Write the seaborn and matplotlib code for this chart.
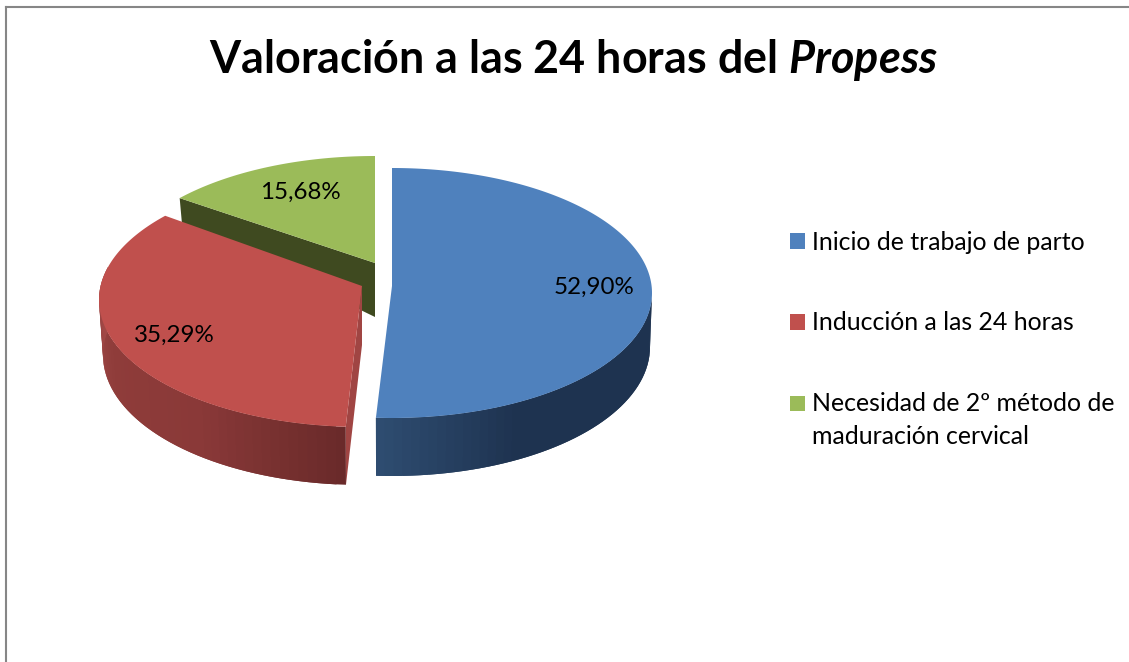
import numpy as np
import seaborn as sns
import matplotlib
matplotlib.use("Agg")
import matplotlib.pyplot as plt
from matplotlib.patches import Patch

title = r"Valoración a las 24 horas del $\mathbfit{Propess}$"
categories = ["Inicio de trabajo de parto", "Inducción a las 24 horas",
              "Necesidad de 2º método de\nmaduración cervical"]
values = [52.90, 35.29, 15.68]

top_colors = ["#4f81bd", "#c0504d", "#9bbb59"]
wall_colors = ["#2c4a6e", "#a04543", "#3f4a20"]
side_stops = [["#1e3350", "#1e3350", "#1e3350", "#2e4c70"],
              ["#6a2a2a", "#8a3938", "#8f3c3a", "#a54b49"],
              ["#3f4a20", "#3f4a20"]]

# layout of the exploded slices, in pixels
tops = [(392, 293, 260, 125), (362, 300, 263, 127), (375, 281, 261, 125)]
bottoms = [(392, 347, 258, 129), (362, 355, 259, 130), (375, 308, 258, 128)]
apex = [(392, 286, 54), (362, 286, 59), (375, 263, 54)]
label_pos = [(594, 287), (174, 335), (300, 192)]

sns.set_style("white")
plt.rcParams["font.family"] = ["Lato", "DejaVu Sans"]
plt.rcParams["mathtext.fontset"] = "custom"
plt.rcParams["mathtext.bfit"] = "Lato:italic:bold"
plt.rcParams["mathtext.rm"] = "Lato"


def warp(angle):
    # the 3d view moves the far edge of the red slice a bit on screen
    return np.interp(angle, [0, 183.3, 305.6, 360], [0, 183.5, 311.5, 360])


def arc(box, angles):
    cx, cy, rx, ry = box
    a = np.radians(angles)
    return cx + rx * np.sin(a), cy - ry * np.cos(a)


fig = plt.figure(figsize=(11.29, 6.62), dpi=100)
ax = fig.add_axes([5.5 / 1129, 0, 1 - 5.5 / 1129, 1 - 6.5 / 662])
ax.set_xlim(5.5, 1129)
ax.set_ylim(662, 6.5)
ax.set_xticks([])
ax.set_yticks([])
for name, spine in ax.spines.items():
    spine.set_visible(name in ("top", "left"))
    spine.set_color("#868686")
    spine.set_linewidth(1.5)

total = sum(values)
edges = np.cumsum([0] + values) / total * 360

# back to front: green, red, blue
for i in [2, 1, 0]:
    start, end = warp(edges[i]), warp(edges[i + 1])
    ax_, ay, depth = apex[i]

    # cut faces
    if i in (1, 2):
        tx, ty = arc(tops[i], start)
        bx, by = arc(bottoms[i], start)
        ax.fill([ax_, tx, bx, ax_], [ay, ty, by, ay + depth],
                color=wall_colors[i], lw=0)

    # outer rim, only the part facing the viewer
    lo, hi = max(start, 90), min(end, 285)
    if lo < hi:
        n = 48
        steps = np.linspace(lo, hi, n + 1)
        shades = sns.blend_palette(side_stops[i], n_colors=n)
        for k in range(n):
            # each strip overlaps the next one so no seams show
            pair = steps[k:k + 3]
            tx, ty = arc(tops[i], pair)
            bx, by = arc(bottoms[i], pair)
            ax.fill(np.r_[tx, bx[::-1]], np.r_[ty, by[::-1]],
                    color=shades[k], lw=0)

    # top face
    angles = np.linspace(start, end, 200)
    tx, ty = arc(tops[i], angles)
    ax.fill(np.r_[ax_, tx], np.r_[ay, ty], color=top_colors[i], lw=0)

for v, pos in zip(values, label_pos):
    ax.text(pos[0], pos[1], f"{v:.2f}%".replace(".", ","), fontsize=17.4,
            color="black", ha="center", va="center")

ax.text(573, 60, title, fontsize=32.3, fontweight="bold", color="black",
        ha="center", va="center")

handles = [Patch(color=c, lw=0) for c in top_colors]
leg = ax.legend(handles, categories, loc="upper left", bbox_to_anchor=(790, 231),
                bbox_transform=ax.transData, frameon=False, fontsize=17.9,
                handlelength=0.6, handleheight=0.6, handletextpad=0.28,
                labelspacing=2.31, borderpad=0, borderaxespad=0, labelcolor="black")
for t in leg.get_texts():
    t.set_linespacing(1.52)
# square of the two-line entry sits next to its first line
last = leg.legend_handles[2]
last.set_y(last.get_y() + 12.2)

fig.savefig("out.png", dpi=100)
